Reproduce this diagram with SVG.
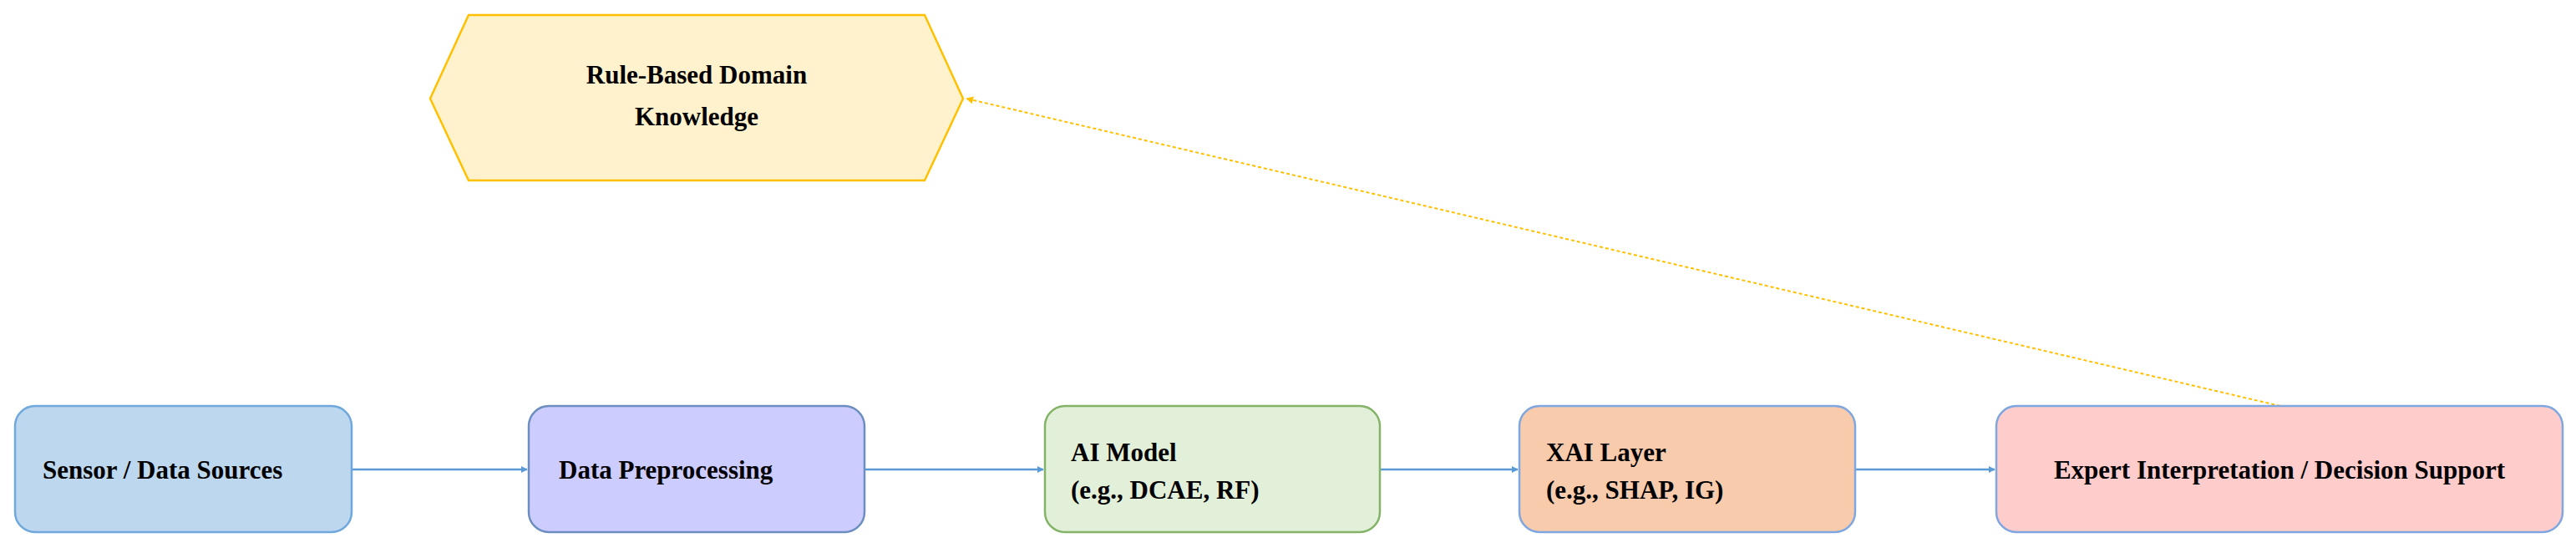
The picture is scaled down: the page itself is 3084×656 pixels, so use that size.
<svg xmlns="http://www.w3.org/2000/svg" width="3084" height="656" viewBox="0 0 3084 656">
<style>
text{font-family:"Liberation Serif","Times New Roman",serif;font-weight:bold;font-size:31px;fill:#000}
.b{stroke-width:2.5}
.c{stroke:#5b9bd5;stroke-width:2.5;fill:none}
</style>
<defs>
<marker id="ab" viewBox="0 0 10 10" refX="9" refY="5" markerWidth="8" markerHeight="8" orient="auto" markerUnits="userSpaceOnUse"><path d="M0,0L10,5L0,10z" fill="#5b9bd5"/></marker>
<marker id="ay" viewBox="0 0 10 10" refX="9" refY="5" markerWidth="9" markerHeight="9" orient="auto" markerUnits="userSpaceOnUse" ><path d="M0,0L10,5L0,10z" fill="#ffc000"/></marker>
</defs>
<rect width="3084" height="656" fill="#fff"/>
<g id="connectors">
<path class="c" d="M421,562H631" marker-end="url(#ab)" style="marker-end:url(#ab)"/>
<path class="c" d="M1035,562H1249" marker-end="url(#ab)"/>
<path class="c" d="M1652,562H1817" marker-end="url(#ab)"/>
<path class="c" d="M2221,562H2388" marker-end="url(#ab)"/>
<path d="M2730,486L1157,118" stroke="#ffc000" stroke-width="2" stroke-dasharray="4,3" fill="none" marker-end="url(#ay)"/>
</g>
<g id="rule">
<polygon class="b" points="515,118 561,18 1107,18 1153,118 1107,216 561,216" fill="#fff2cc" stroke="#ffc000"/>
<text x="834" y="100" text-anchor="middle">Rule-Based Domain</text>
<text x="834" y="150" text-anchor="middle">Knowledge</text>
</g>
<g id="sensor">
<rect class="b" x="18" y="486" width="403" height="151" rx="24" fill="#bdd7ee" stroke="#6fa8dc"/>
<text x="51" y="573">Sensor / Data Sources</text>
</g>
<g id="prep">
<rect class="b" x="633" y="486" width="402" height="151" rx="24" fill="#ccccff" stroke="#6c8ebf"/>
<text x="669" y="573">Data Preprocessing</text>
</g>
<g id="model">
<rect class="b" x="1251" y="486" width="401" height="151" rx="24" fill="#e2efd9" stroke="#82b366"/>
<text x="1282" y="552">AI Model</text>
<text x="1282" y="597">(e.g., DCAE, RF)</text>
</g>
<g id="xai">
<rect class="b" x="1819" y="486" width="402" height="151" rx="24" fill="#f8cbad" stroke="#7ea6e0"/>
<text x="1851" y="552">XAI Layer</text>
<text x="1851" y="597">(e.g., SHAP, IG)</text>
</g>
<g id="expert">
<rect class="b" x="2390" y="486" width="678" height="151" rx="24" fill="#ffcccc" stroke="#7ea6e0"/>
<text x="2729" y="573" text-anchor="middle">Expert Interpretation / Decision Support</text>
</g>
</svg>
